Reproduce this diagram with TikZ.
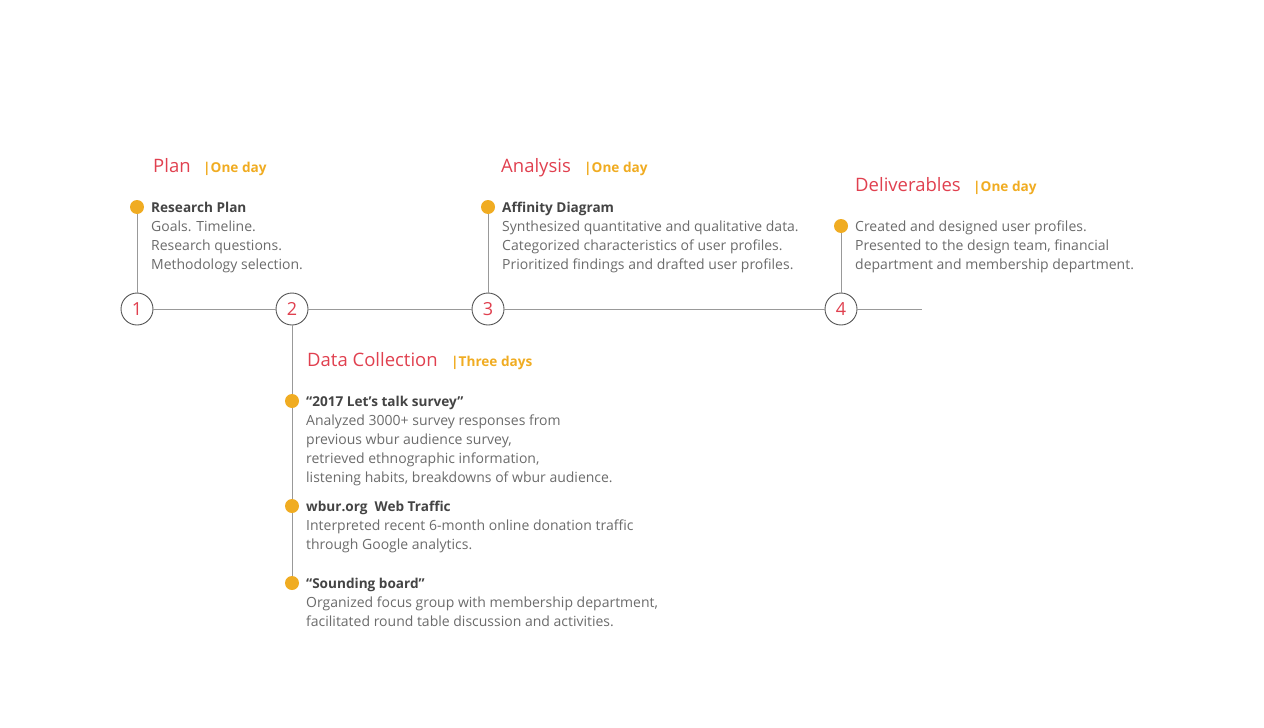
\documentclass[tikz,border=0pt]{standalone}
\usepackage{fontspec}
\setmainfont{Open Sans}
\definecolor{accentred}{HTML}{E0404F}
\definecolor{dotorange}{HTML}{F0AC22}
\definecolor{titlegray}{HTML}{444444}
\definecolor{bodygray}{HTML}{6B6B6B}
\definecolor{linegray}{HTML}{999999}
\definecolor{ringgray}{HTML}{555555}
\tikzset{
  stepnum/.style={circle, draw=ringgray, line width=0.9pt, fill=white, minimum size=32pt,
    inner sep=0pt, text=accentred, font=\fontsize{18}{18}\selectfont},
  dot/.style={circle, fill=dotorange, minimum size=14pt, inner sep=0pt},
  track/.style={draw=linegray, line width=0.9pt},
  phase/.style={anchor=base west, inner sep=0pt, text=accentred, font=\fontsize{18.5}{18.5}\selectfont},
  span/.style={anchor=base west, inner sep=0pt, text=dotorange, font=\fontsize{13.6}{14}\selectfont\bfseries},
  % base anchor of a multi-line node sits on its last line
  block/.style={anchor=base west, inner sep=0pt, align=left, text=bodygray,
    font=\fontsize{14}{19}\selectfont},
}
\newcommand{\itemtitle}[1]{{\color{titlegray}\fontsize{13.6}{19}\selectfont\bfseries #1}}
\begin{document}
\begin{tikzpicture}[x=1pt, y=-1pt]
  \useasboundingbox (0,0) rectangle (1264,728);

  % step markers on the timeline
  \node[stepnum] (c1) at (137,309) {1};
  \node[stepnum] (c2) at (292,309) {2};
  \node[stepnum] (c3) at (488,309) {3};
  \node[stepnum] (c4) at (841,309) {4};
  \coordinate (tend) at (922,309);

  % item bullets
  \node[dot] (d1) at (137,207) {};
  \node[dot] (d3) at (488,207) {};
  \node[dot] (d4) at (841,226) {};
  \node[dot] (d2a) at (292,401) {};
  \node[dot] (d2b) at (292,506) {};
  \node[dot] (d2c) at (292,583) {};

  % timeline and stems
  \draw[track] (c1) -- (c2);
  \draw[track] (c2) -- (c3);
  \draw[track] (c3) -- (c4);
  \draw[track] (c4) -- (tend);
  \draw[track] (c1) -- (d1);
  \draw[track] (c3) -- (d3);
  \draw[track] (c4) -- (d4);
  \draw[track] (c2) -- (d2a);
  \draw[track] (d2a) -- (d2b);
  \draw[track] (d2b) -- (d2c);

  % phase headings
  \node[phase] (h1) at (153,172) {Plan};
  \node[span]  (s1) at (203,172) {|One day};
  \node[phase] (h3) at (501,172) {Analysis};
  \node[span]  (s3) at (584,172) {|One day};
  \node[phase] (h4) at (855,191) {Deliverables};
  \node[span]  (s4) at (973,191) {|One day};
  \node[phase] (h2) at (307,366) {Data Collection};
  \node[span]  (s2) at (451,366) {|Three days};

  % item texts
  \node[block] (t1) at (151,269) {\itemtitle{Research Plan}\\Goals. Timeline.\\Research questions.\\Methodology selection.};
  \node[block] (t3) at (502,269) {\itemtitle{Affinity Diagram}\\Synthesized quantitative and qualitative data.\\Categorized characteristics of user profiles.\\Prioritized findings and drafted user profiles.};
  \node[block] (t4) at (855,269) {Created and designed user profiles.\\Presented to the design team, financial\\department and membership department.};
  \node[block] (t2a) at (306,482) {\itemtitle{“2017 Let’s talk survey”}\\Analyzed 3000+ survey responses from\\previous wbur audience survey,\\retrieved ethnographic information,\\listening habits, breakdowns of wbur audience.};
  \node[block] (t2b) at (306,549) {\itemtitle{wbur.org\ \ Web Traffic}\\Interpreted recent 6-month online donation traffic\\through Google analytics.};
  \node[block] (t2c) at (306,626) {\itemtitle{“Sounding board”}\\Organized focus group with membership department,\\facilitated round table discussion and activities.};
\end{tikzpicture}
\end{document}
